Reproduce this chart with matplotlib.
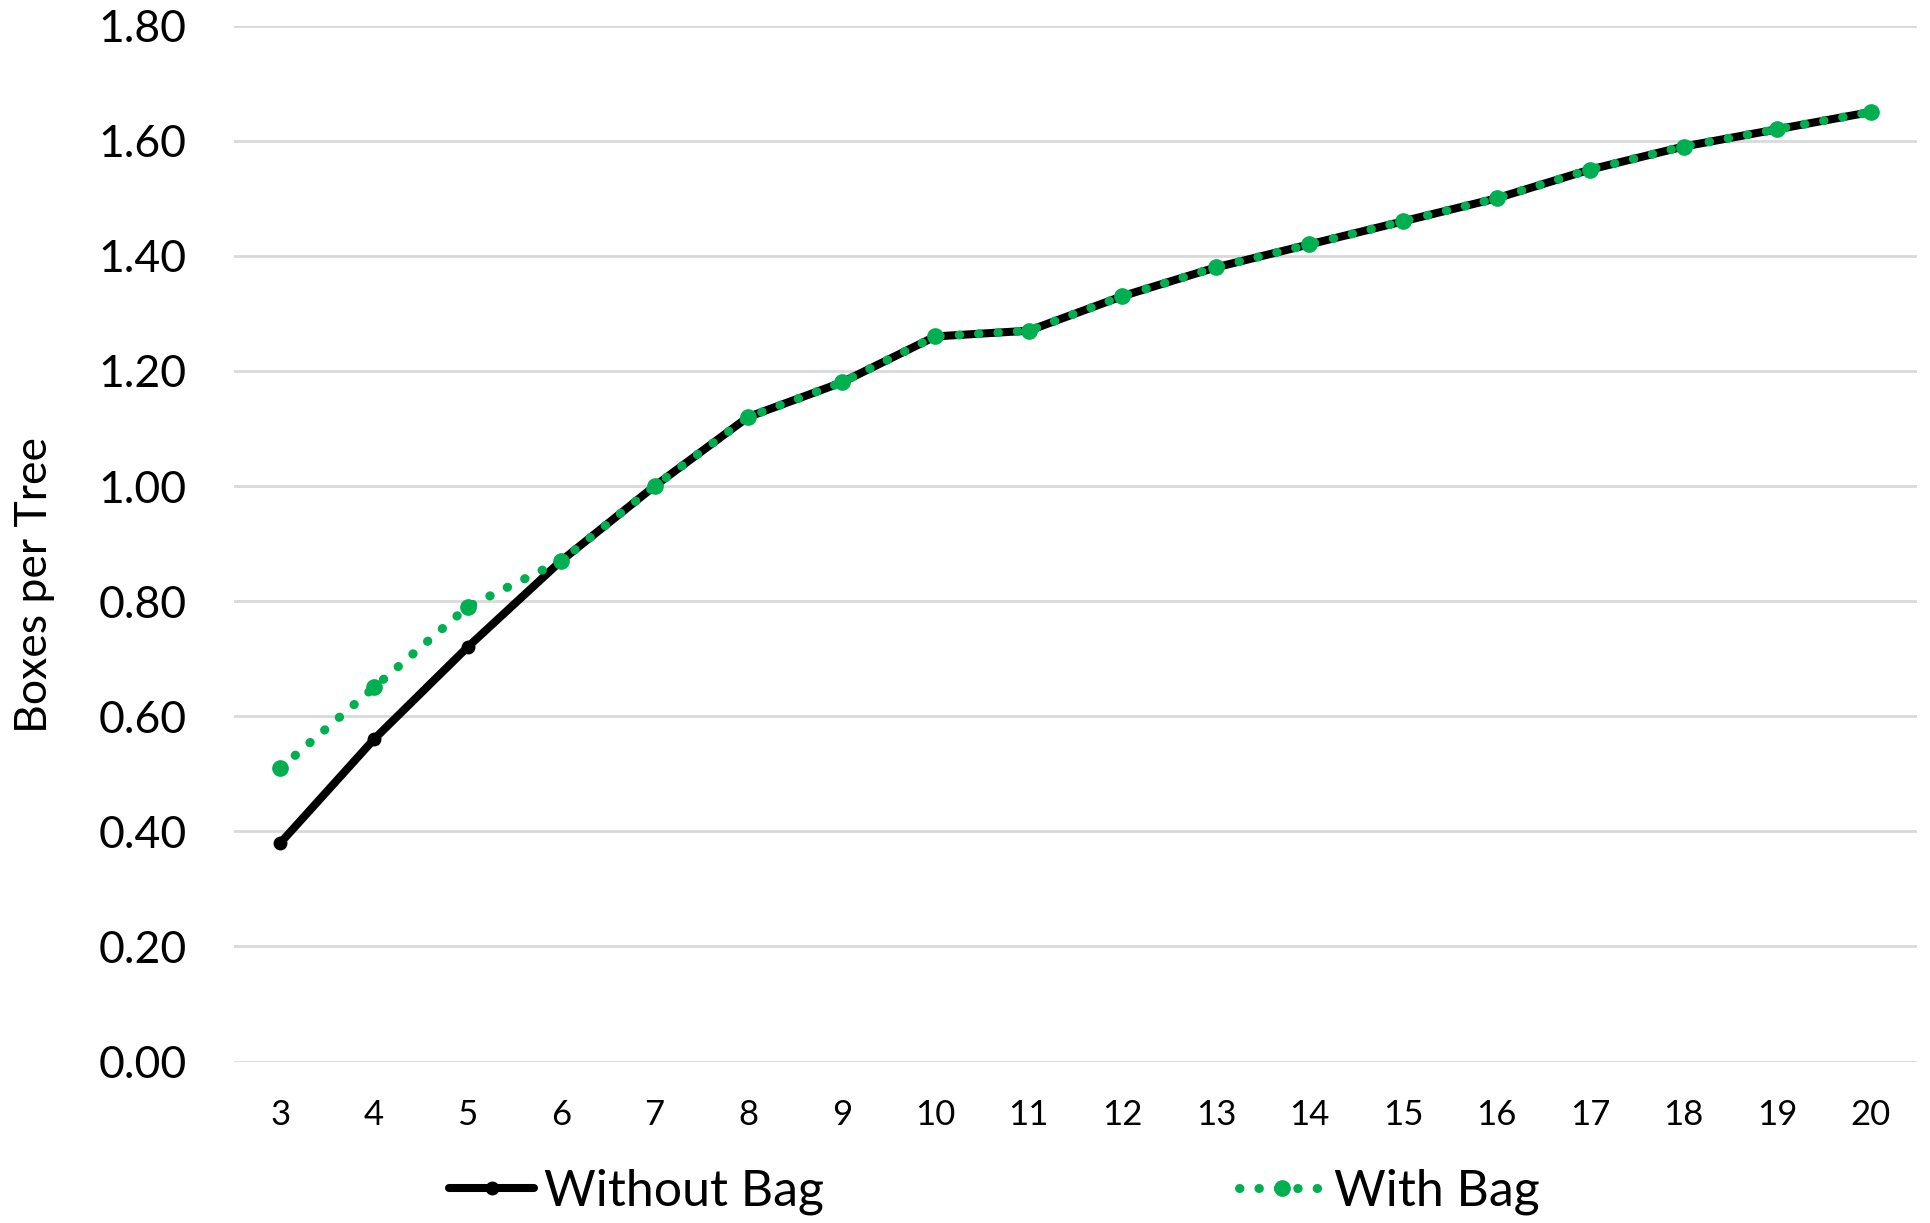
import matplotlib
matplotlib.use("Agg")
import matplotlib.pyplot as plt

# -----------------------------------
# DATA
# -----------------------------------
years = [3, 4, 5, 6, 7, 8, 9, 10, 11, 12, 13, 14, 15, 16, 17, 18, 19, 20]
without_bag = [0.38, 0.56, 0.72, 0.87, 1.00, 1.12, 1.18, 1.26, 1.27, 1.33,
               1.38, 1.42, 1.46, 1.50, 1.55, 1.59, 1.62, 1.65]
with_bag = [0.51, 0.65, 0.79, 0.87, 1.00, 1.12, 1.18, 1.26, 1.27, 1.33,
            1.38, 1.42, 1.46, 1.50, 1.55, 1.59, 1.62, 1.65]
y_ticks = [0.0, 0.2, 0.4, 0.6, 0.8, 1.0, 1.2, 1.4, 1.6, 1.8]

plt.rcParams["font.family"] = ["Lato", "DejaVu Sans"]

# -----------------------------------
# PLOT
# -----------------------------------
fig = plt.figure(figsize=(19.31, 12.23), dpi=100)
ax = fig.add_axes([0.121, 0.132, 0.872, 0.847])

ax.plot(years, without_bag, color="black", lw=5.8, marker="o", ms=9,
        solid_capstyle="round", label="Without Bag", zorder=3)
ax.plot(years, with_bag, color="#00b050", lw=6.5, linestyle=(0, (0.05, 2.1)),
        dash_capstyle="round", marker="o", ms=11, label="With Bag", zorder=4)

ax.set_xlim(2.5, 20.5)
ax.set_ylim(0, 1.8)
ax.set_xticks(years)
ax.set_yticks(y_ticks)
ax.set_yticklabels([f"{v:.2f}" for v in y_ticks], fontsize=32)
ax.tick_params(axis="x", labelsize=25, length=0, pad=27)
ax.tick_params(axis="y", length=0, pad=34)
ax.grid(axis="y", color="#d9d9d9", lw=2)
ax.set_axisbelow(True)
for s in ax.spines.values():
    s.set_visible(False)

ax.set_ylabel("Boxes per Tree", fontsize=32)
ax.yaxis.set_label_coords(-0.106, 0.46)

fig.legend(loc="lower center", bbox_to_anchor=(0.515, -0.03), ncol=2,
           frameon=False, fontsize=36, columnspacing=8.3, handlelength=1.7,
           handletextpad=0.2)

fig.savefig("out.png", dpi=100)
